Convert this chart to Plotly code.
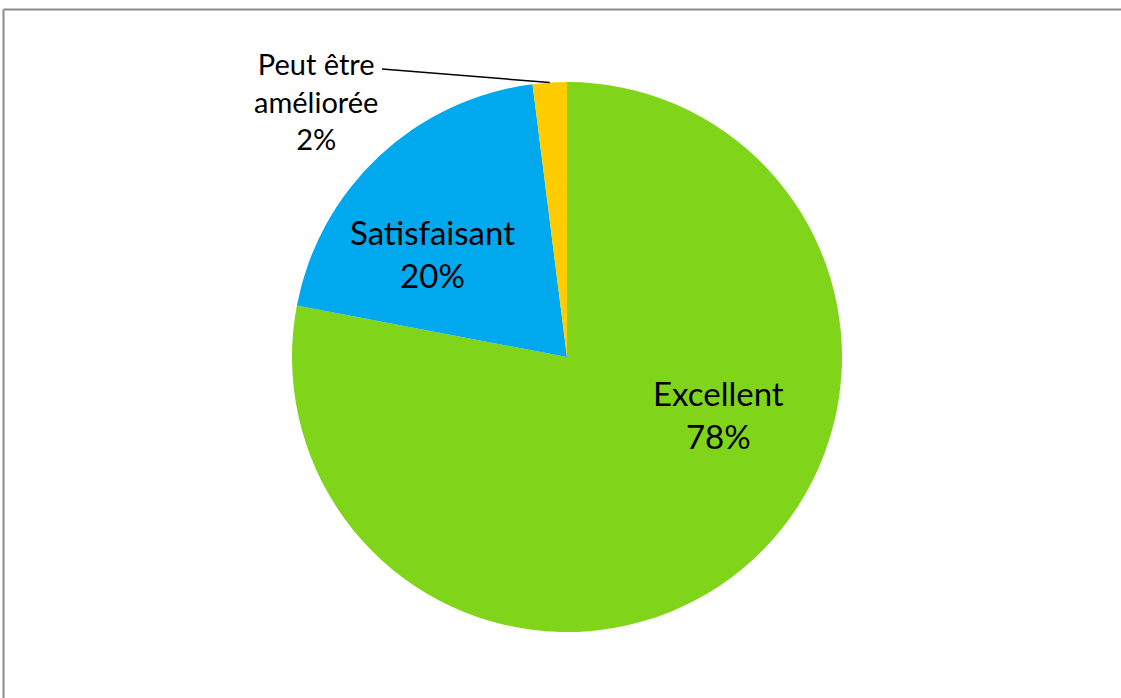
import math
import plotly.graph_objects as go

# ── Data ────────────────────────────────────────────────────────────────────
LABELS = ["Excellent", "Satisfaisant", "Peut être<br>améliorée"]
VALUES = [78, 20, 2]
COLORS = ["#80d41a", "#00a8ee", "#ffcc00"]

W, H = 1121, 698
FONT = "Lato, 'Open Sans', sans-serif"

# pie geometry in pixels (center + radius)
CX, CY, R = 567, 357, 275

fig = go.Figure()
fig.add_trace(go.Pie(
    labels=LABELS,
    values=VALUES,
    sort=False,
    direction="clockwise",
    rotation=0,
    marker=dict(colors=COLORS, line=dict(width=0)),
    textinfo="none",
    hoverinfo="label+percent",
    showlegend=False,
    domain=dict(x=[(CX - R) / W, (CX + R) / W],
                y=[1 - (CY + R) / H, 1 - (CY - R) / H]),
))

total = sum(VALUES)
pct = [f"{round(100 * v / total)}%" for v in VALUES]

# big inside labels
label_pos = [(719, 414), (432, 253)]
for (px, py), lab, p in zip(label_pos, LABELS[:2], pct[:2]):
    fig.add_annotation(
        x=px / W, y=1 - py / H, xref="paper", yref="paper",
        xanchor="center", yanchor="middle",
        text=f"{lab}<br>{p}", showarrow=False,
        font=dict(family=FONT, size=33, color="#000000"),
        align="center",
    )

# small outside label with leader line to the middle of its slice edge
mid = 360 * (sum(VALUES[:2]) + VALUES[2] / 2) / total
ex = CX + R * math.sin(math.radians(mid))
ey = CY - R * math.cos(math.radians(mid))
fig.add_annotation(
    x=316 / W, y=1 - 101 / H, xref="paper", yref="paper",
    xanchor="center", yanchor="middle",
    text=f"{LABELS[2]}<br>{pct[2]}", showarrow=False,
    font=dict(family=FONT, size=29, color="#000000"),
    align="center",
)
fig.add_shape(type="line", xref="paper", yref="paper",
              x0=382 / W, y0=1 - 69 / H, x1=ex / W, y1=1 - ey / H,
              line=dict(color="#000000", width=1.5))

# outer frame: only top and left edges are on the page
FRAME = dict(color="#8c8c8c", width=2)
fig.add_shape(type="line", xref="paper", yref="paper",
              x0=3.5 / W, y0=1 - 9.5 / H, x1=1.0, y1=1 - 9.5 / H, line=FRAME)
fig.add_shape(type="line", xref="paper", yref="paper",
              x0=3.5 / W, y0=1 - 9.5 / H, x1=3.5 / W, y1=0.0, line=FRAME)

fig.update_layout(
    width=W, height=H,
    margin=dict(l=0, r=0, t=0, b=0),
    paper_bgcolor="#ffffff",
    plot_bgcolor="#ffffff",
    font=dict(family=FONT),
)

fig.write_html("out.html",
               config={"displayModeBar": False},
               post_script="document.body.style.margin='0';"
                           "document.body.style.overflow='hidden';"
                           "document.documentElement.style.overflow='hidden';")
